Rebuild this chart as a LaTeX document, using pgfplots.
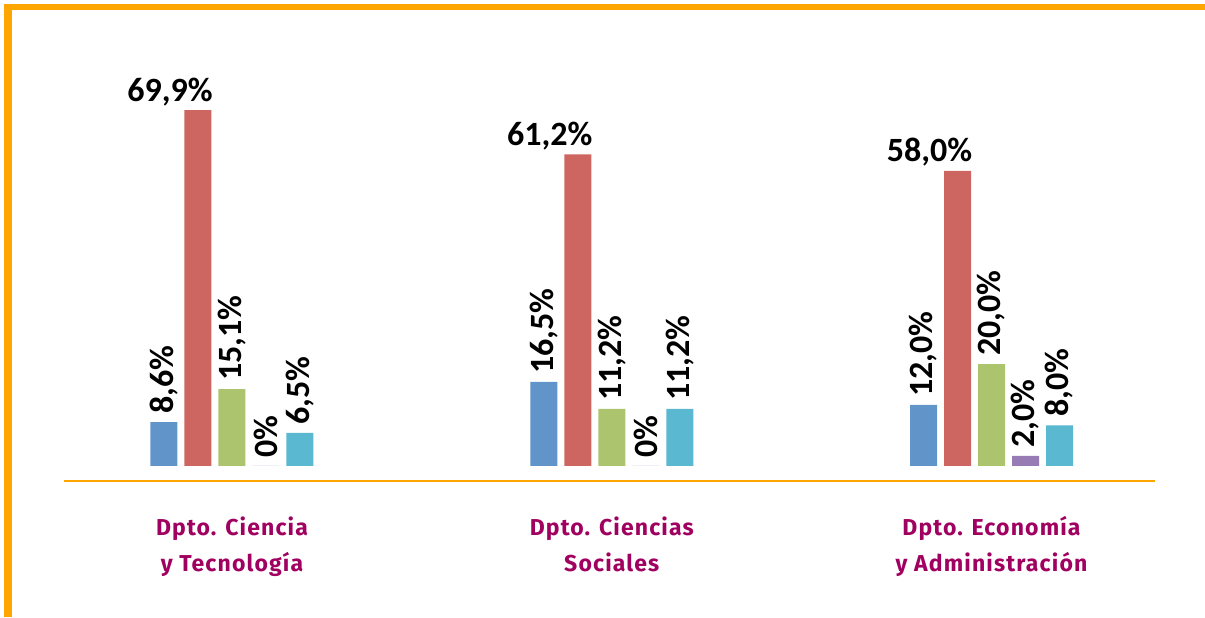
\documentclass[border=0pt]{standalone}
\usepackage{pgfplots}
\pgfplotsset{compat=1.18}
\usepackage{fontspec}
\setmainfont{Carlito}
\newfontfamily\catfont[LetterSpace=5]{Fira Sans}

\definecolor{frame}{HTML}{FFA500}
\definecolor{catcol}{HTML}{A0005F}
\definecolor{cblue}{HTML}{6195C9}
\definecolor{cred}{HTML}{CD6660}
\definecolor{cgreen}{HTML}{ADC46E}
\definecolor{cpurple}{HTML}{977BB4}
\definecolor{ccyan}{HTML}{5AB8D0}

\begin{document}
\begin{tikzpicture}
\begin{axis}[
  name=main,
  scale only axis,
  width=602.5pt,
  height=308.5pt,
  xmin=-0.6109, xmax=2.5622,
  ymin=-29.67, ymax=91.55,
  enlargelimits=false,
  clip=false,
  axis line style={draw=none},
  tick style={draw=none},
  ytick=\empty,
  xtick={0,1,2},
  xticklabels={Dpto. Ciencia\\y Tecnología, Dpto. Ciencias\\Sociales, Dpto. Economía\\y Administración},
  xticklabel style={font=\catfont\bfseries\fontsize{11.5}{18}\selectfont, text=catcol,
    align=center, anchor=north, yshift=58pt},
  ybar=3.5pt,
  bar width=13.5pt,
  point meta=explicit symbolic,
  nodes near coords,
  every node near coord/.append style={font=\bfseries\fontsize{17}{20}\selectfont,
    rotate=90, anchor=west, inner sep=4pt},
]
\addplot[fill=cblue, draw=none] coordinates {(0,8.6)[8,6\%] (1,16.5)[16,5\%] (2,12.0)[12,0\%]};
\addplot[fill=cred, draw=none, every node near coord/.append style={rotate=-90, anchor=south east, inner sep=1pt, xshift=8.5pt, yshift=1pt}]
  coordinates {(0,69.9)[69,9\%] (1,61.2)[61,2\%] (2,58.0)[58,0\%]};
\addplot[fill=cgreen, draw=none] coordinates {(0,15.1)[15,1\%] (1,11.2)[11,2\%] (2,20.0)[20,0\%]};
\addplot[fill=cpurple, draw=none] coordinates {(0,0)[0\%] (1,0)[0\%] (2,2.0)[2,0\%]};
\addplot[fill=ccyan, draw=none] coordinates {(0,6.5)[6,5\%] (1,11.2)[11,2\%] (2,8.0)[8,0\%]};
% frame and base line
\draw[frame, line width=4pt] (rel axis cs:0.00689,0) -- (rel axis cs:0.00689,0.98865);
\draw[frame, line width=3pt] (rel axis cs:0.00357,0.98865) -- (rel axis cs:1,0.98865);
\draw[frame, line width=1.3pt] (rel axis cs:0.0531,0.2204) -- (rel axis cs:0.9585,0.2204);
\end{axis}
\pgfresetboundingbox
\path[use as bounding box] (main.south west) rectangle (main.north east);
\end{tikzpicture}
\end{document}
